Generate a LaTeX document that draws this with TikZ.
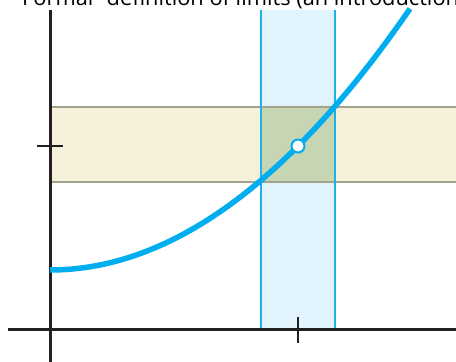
\documentclass[tikz,border=0pt]{standalone}
\usepackage{fontspec}
\setsansfont{Open Sans}
\usetikzlibrary{positioning}

\definecolor{curveblue}{HTML}{00AEEF}
\definecolor{bandblue}{HTML}{E1F3FD}
\definecolor{bandedge}{HTML}{1FB1EA}
\definecolor{bandtan}{HTML}{F5F0D9}
\definecolor{tanedge}{HTML}{A3A28A}
\definecolor{bandboth}{HTML}{C7D6B2}
\definecolor{axisgray}{HTML}{231F20}

\begin{document}
\begin{tikzpicture}[x=1pt, y=1pt, every node/.style={font=\sffamily},
    axisline/.style={axisgray, line width=3},
    tickline/.style={axisgray, line width=2.5},
    tanline/.style={tanedge, line width=2},
    blueline/.style={bandedge, line width=2},
    hole/.style={circle, draw=curveblue, fill=white, line width=2, minimum size=13, inner sep=0}]
  \useasboundingbox (0,0) rectangle (456,362);
  % the two bands and where they meet
  \fill[bandtan] (50,180) rectangle (456,255);
  \fill[bandblue] (261,32) rectangle (335,352);
  \fill[bandboth] (261,180) rectangle (335,255);
  \draw[tanline] (50,180) -- (456,180);
  \draw[tanline] (50,255) -- (456,255);
  \draw[blueline] (261,32) -- (261,352);
  \draw[blueline] (335,32) -- (335,352);
  % axes
  \draw[axisline] (50,0) -- (50,352);
  \draw[axisline] (8,32) -- (456,32);
  \draw[tickline] (298,19) -- (298,45);
  \draw[tickline] (37,216) -- (63,216);
  % the curve
  \draw[curveblue, line width=5.5, domain=50:410, samples=80]
    plot (\x, {92+20.16*((\x-50)/100)^2});
  \node[hole] (hole) at (298,216) {};
  \node[anchor=base west, inner sep=0, font=\sffamily\fontsize{21.8}{24}\selectfont] (title) at (22,356)
    {\llap{“}Formal” definition of limits (an introduction)};
\end{tikzpicture}
\end{document}
